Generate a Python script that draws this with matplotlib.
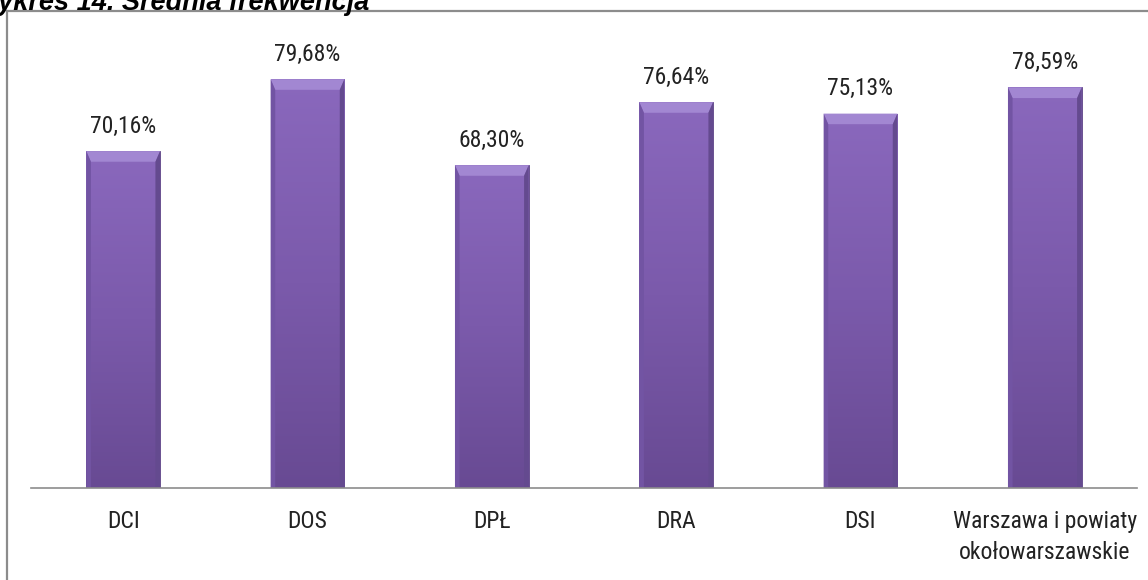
import matplotlib.pyplot as plt
import matplotlib.colors as mcolors
from matplotlib import font_manager
import numpy as np
from matplotlib.patches import Polygon
from matplotlib.lines import Line2D

categories = ["DCI", "DOS", "DPŁ", "DRA", "DSI", "Warszawa i powiaty\nokołowarszawskie"]
values = [70.16, 79.68, 68.30, 76.64, 75.13, 78.59]
labels = ["70,16%", "79,68%", "68,30%", "76,64%", "75,13%", "78,59%"]


def pick_narrow_font():
    # look for a condensed face similar to Calibri
    fonts = font_manager.fontManager.ttflist
    names = {f.name for f in fonts}
    for name in ['Roboto Condensed', 'Liberation Sans Narrow', 'Open Sans Condensed']:
        if name in names:
            return dict(family=name)
    for f in fonts:
        if f.name == 'DejaVu Sans' and f.stretch in ('condensed', 'semi-condensed'):
            return dict(family='DejaVu Sans', stretch='condensed')
    return dict(family='Open Sans')


font = pick_narrow_font()

fig = plt.figure(figsize=(11.48, 5.8), dpi=100)

# outer frame of the chart (cropped at right and bottom)
fig.add_artist(Line2D([7 / 1148, 7 / 1148], [0, 1 - 11 / 580], transform=fig.transFigure,
                      color='#8c8c8c', lw=1.6))
fig.add_artist(Line2D([7 / 1148, 1], [1 - 11 / 580, 1 - 11 / 580], transform=fig.transFigure,
                      color='#8c8c8c', lw=1.6))

# caption, partly cut off at the top of the picture
fig.text(-27 / 1148, 1 - 0 / 580, "Wykres 14. Średnia frekwencja", fontsize=19.5,
         fontweight='bold', fontstyle='italic', family='Liberation Sans',
         va='center', ha='left')

ax = fig.add_axes([31 / 1148, 92 / 580, (1137 - 31) / 1148, (488 - 30) / 580])
ymin, ymax = 25.56, 86.2
ax.set_xlim(-0.5, 5.5)
ax.set_ylim(ymin, ymax)

width = 0.40
x = np.arange(len(categories))
cmap = mcolors.LinearSegmentedColormap.from_list("bar", ["#8a68bd", "#7b5aab", "#684a93"])
grad = np.linspace(0, 1, 256).reshape(-1, 1)

for xi, v, lab in zip(x, values, labels):
    bar = ax.bar(xi, v - ymin, bottom=ymin, width=width, color='#7d5cae',
                 edgecolor='#5e4487', linewidth=0.6, zorder=2)[0]
    im = ax.imshow(grad, cmap=cmap, aspect='auto', zorder=3,
                   extent=[xi - width / 2, xi + width / 2, ymin, v])
    im.set_clip_path(bar)
    # bevel at the top of the bar
    bh = 1.4
    bw = 0.025
    ax.add_patch(Polygon([[xi - width / 2, v], [xi + width / 2, v],
                          [xi + width / 2 - bw, v - bh], [xi - width / 2 + bw, v - bh]],
                         closed=True, facecolor='#a287d2', edgecolor='none', zorder=4))
    ax.add_patch(Polygon([[xi - width / 2, v], [xi - width / 2 + bw, v - bh],
                          [xi - width / 2 + bw, ymin], [xi - width / 2, ymin]],
                         closed=True, facecolor='#7254a3', edgecolor='none', zorder=4))
    ax.add_patch(Polygon([[xi + width / 2, v], [xi + width / 2 - bw, v - bh],
                          [xi + width / 2 - bw, ymin], [xi + width / 2, ymin]],
                         closed=True, facecolor='#644a8f', edgecolor='none', zorder=4))
    ax.text(xi, v + 3.3, lab, ha='center', va='center', fontsize=17, color='#222222', **font)

ax.set_xticks(x)
ax.set_xticklabels(categories, fontsize=17, color='#222222', linespacing=1.45, **font)
ax.tick_params(axis='x', length=0, pad=16)
ax.set_yticks([])
for s in ['top', 'right', 'left']:
    ax.spines[s].set_visible(False)
ax.spines['bottom'].set_color('#8c8c8c')
ax.spines['bottom'].set_linewidth(1.2)
ax.spines['bottom'].set_zorder(5)

fig.savefig("out.png", dpi=100)
